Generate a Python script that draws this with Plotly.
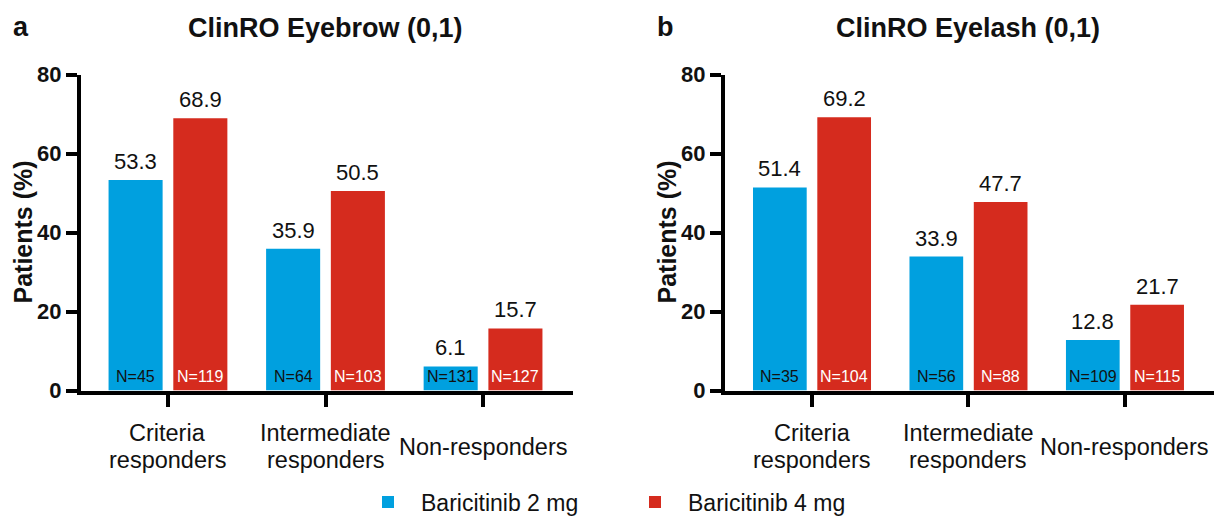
import plotly.graph_objects as go

# ---------------- data ----------------
categories = ["Criteria<br>responders", "Intermediate<br>responders", "Non-responders"]
series_names = ["Baricitinib 2 mg", "Baricitinib 4 mg"]

eyebrow_2mg = [53.3, 35.9, 6.1]
eyebrow_4mg = [68.9, 50.5, 15.7]
eyebrow_n_2mg = [45, 64, 131]
eyebrow_n_4mg = [119, 103, 127]

eyelash_2mg = [51.4, 33.9, 12.8]
eyelash_4mg = [69.2, 47.7, 21.7]
eyelash_n_2mg = [35, 56, 109]
eyelash_n_4mg = [104, 88, 115]

panel_titles = ["ClinRO Eyebrow (0,1)", "ClinRO Eyelash (0,1)"]
panel_letters = ["a", "b"]
y_title = "Patients (%)"
y_ticks = [0, 20, 40, 60, 80]

# ---------------- style ----------------
BLUE = "#00A0DF"
RED = "#D52B1E"
INK = "#111111"
FONT = "Liberation Sans, Arial, Helvetica, sans-serif"
BARGAP = 0.178
GROUPGAP = 0.165
W, H = 1214, 517
Y0_PX, Y80_PX = 390.5, 74.5

fig = go.Figure()

panels = [
    (eyebrow_2mg, eyebrow_4mg, eyebrow_n_2mg, eyebrow_n_4mg, "x", "y"),
    (eyelash_2mg, eyelash_4mg, eyelash_n_2mg, eyelash_n_4mg, "x2", "y2"),
]

idx = list(range(len(categories)))
slot = (1 - BARGAP) / 2
offs = [-slot / 2, slot / 2]
LINE_PX = 27

annotations = []
for p, (v2, v4, n2, n4, xa, ya) in enumerate(panels):
    for s, (vals, ns, col, tcol) in enumerate([(v2, n2, BLUE, INK), (v4, n4, RED, "white")]):
        fig.add_trace(go.Bar(
            x=idx, y=vals, name=series_names[s], marker_color=col,
            marker_line_width=0, xaxis=xa, yaxis=ya,
            showlegend=(p == 0), legendgroup=series_names[s], hoverinfo="skip",
        ))
        for i, (v, n) in enumerate(zip(vals, ns)):
            annotations.append(dict(
                x=i + offs[s], y=v, xref=xa, yref=ya, text=f"{v:.1f}",
                showarrow=False, yanchor="bottom", yshift=4,
                font=dict(family=FONT, size=22, color=INK)))
            annotations.append(dict(
                x=i + offs[s], y=0, xref=xa, yref=ya, text=f"N={n}",
                showarrow=False, yanchor="bottom", yshift=4,
                font=dict(family=FONT, size=16, color=tcol)))
    # category labels (lines placed individually for tight line spacing)
    for i, c in enumerate(categories):
        lines = c.split("<br>")
        nl = len(lines)
        for k, line in enumerate(lines):
            annotations.append(dict(
                x=i, y=0, xref=xa, yref=ya, text=line, showarrow=False,
                yanchor="middle", yshift=-(56 + (k - (nl - 1) / 2) * LINE_PX),
                font=dict(family=FONT, size=23.5, color=INK)))
    # panel title, centred on middle category
    annotations.append(dict(
        x=1, y=1, xref=xa, yref="paper", text=f"<b>{panel_titles[p]}</b>",
        showarrow=False, yanchor="middle", yshift=-28,
        font=dict(family=FONT, size=27, color=INK)))
    # panel letter
    annotations.append(dict(
        x=0, y=1, xref=f"{xa} domain", yref="paper", text=f"<b>{panel_letters[p]}</b>",
        showarrow=False, yanchor="middle", xanchor="center", xshift=-60, yshift=-27,
        font=dict(family=FONT, size=27, color=INK)))
    # y title
    annotations.append(dict(
        x=0, y=0.5, xref=f"{xa} domain", yref=f"{ya} domain", text=f"<b>{y_title}</b>",
        showarrow=False, textangle=-90, xanchor="center", yanchor="middle", xshift=-59,
        font=dict(family=FONT, size=25, color=INK)))

axis_common = dict(showline=True, linecolor="black", linewidth=4, showgrid=False,
                   zeroline=False, ticks="outside", tickcolor="black", tickwidth=4)

y_dom = [(H - Y0_PX) / H, (H - Y80_PX) / H]
ytick_font = dict(family=FONT, size=22, color=INK, weight="bold")

fig.update_layout(
    width=W, height=H, margin=dict(l=0, r=0, t=0, b=0, autoexpand=False),
    paper_bgcolor="white", plot_bgcolor="white",
    barmode="group", bargap=BARGAP, bargroupgap=GROUPGAP,
    font=dict(family=FONT, color=INK),
    xaxis=dict(domain=[81 / W, 573 / W], range=[-0.552, 2.571], tickvals=idx,
               showticklabels=False, ticklen=12, **axis_common),
    xaxis2=dict(domain=[725 / W, 1.0], range=[-0.556, 2.569], tickvals=idx,
                showticklabels=False, ticklen=12, anchor="y2", **axis_common),
    yaxis=dict(domain=y_dom, range=[0, 80], tickvals=y_ticks, ticklen=11,
               tickfont=ytick_font, **axis_common),
    yaxis2=dict(domain=y_dom, range=[0, 80], tickvals=y_ticks, ticklen=11, anchor="x2",
                tickfont=ytick_font, **axis_common),
    legend=dict(orientation="h", x=355 / W, xanchor="left", y=15 / H, yanchor="middle",
                font=dict(family=FONT, size=23, color=INK),
                itemwidth=56, entrywidth=196, entrywidthmode="pixels",
                bgcolor="rgba(0,0,0,0)"),
    annotations=annotations,
)

fig.write_html("out.html", config={"displayModeBar": False},
               post_script="document.body.style.margin='0px';")
